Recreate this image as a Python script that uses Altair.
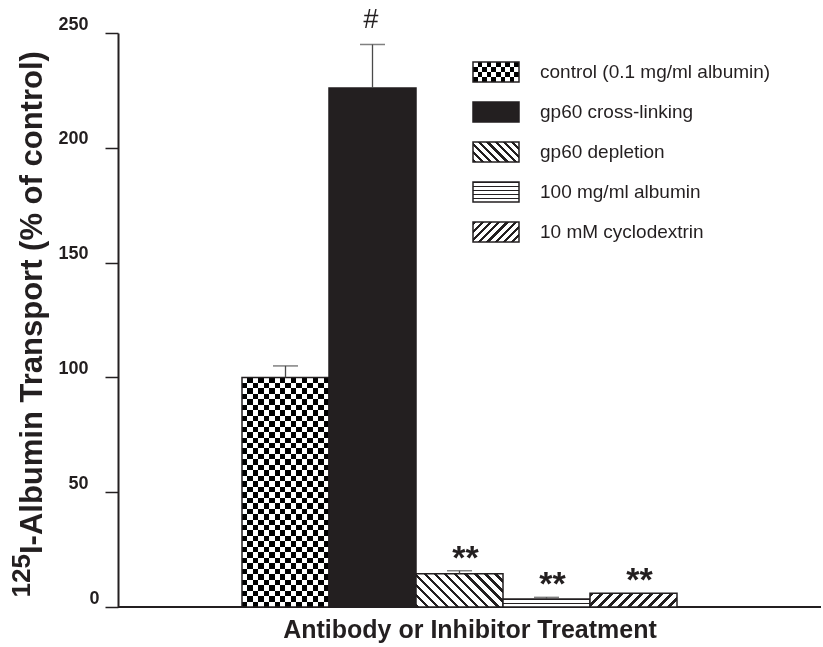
import altair as alt
import pandas as pd

# ---- data -----------------------------------------------------------------
treatments = [
    "control (0.1 mg/ml albumin)",
    "gp60 cross-linking",
    "gp60 depletion",
    "100 mg/ml albumin",
    "10 mM cyclodextrin",
]
transport = [100.0, 226.0, 14.5, 3.5, 6.0]      # % of control
sem = [5.0, 19.0, 1.3, 0.7, 0.0]
significance = ["", "#", "**", "**", "**"]
patterns = ["checker", "solid", "back", "horizontal", "forward"]

# ---- layout / style -------------------------------------------------------
W, H = 703, 574
Y_MAX = 250
BAR_LEFT, BAND = 124, 87
INK = "#231f20"
FONT = "Liberation Sans"

px_per_unit = H / Y_MAX
band = BAND

df = pd.DataFrame({
    "treatment": treatments,
    "transport": transport,
    "sem": sem,
    "top": [m + s for m, s in zip(transport, sem)],
    "sig": significance,
})


def stripe_stops(n, dark=0.5, c_dark=INK, c_light="white"):
    stops = []
    for i in range(n):
        a, m, b = i / n, (i + dark) / n, (i + 1) / n
        stops += [
            {"offset": a, "color": c_dark},
            {"offset": m, "color": c_dark},
            {"offset": m, "color": c_light},
            {"offset": b, "color": c_light},
        ]
    return stops


def hatch(pattern, w, h, period, dark):
    """Linear-gradient fill that reproduces a hatch pattern on a w x h rect."""
    if pattern == "solid":
        return INK
    if pattern == "horizontal":
        n = max(1, round(h / period))
        return {"gradient": "linear", "x1": 0, "y1": 0, "x2": 0, "y2": 1,
                "stops": stripe_stops(n, dark)}
    if pattern == "checker":
        n = max(1, round(w / (2 * period)))
        return {"gradient": "linear", "x1": 0, "y1": 0, "x2": 1, "y2": 0,
                "stops": stripe_stops(n, 0.5, "black", "white")}
    k = (w + h) / (w * w + h * h)
    n = max(1, round((w + h) / period))
    if pattern == "forward":
        g = {"x1": 0, "y1": 0, "x2": k * w, "y2": k * h}
    else:
        g = {"x1": 0, "y1": 1, "x2": k * w, "y2": 1 - k * h}
    return {"gradient": "linear", **g, "stops": stripe_stops(n, dark)}


def checker_rows(h, cell):
    n = max(1, round(h / (2 * cell)))
    return {"gradient": "linear", "x1": 0, "y1": 0, "x2": 0, "y2": 1,
            "stops": stripe_stops(n, 0.5, "white", "black")}


# ---- encodings ------------------------------------------------------------
x_enc = alt.X(
    "treatment:N",
    scale=alt.Scale(domain=treatments, paddingInner=0, paddingOuter=0,
                    range=[BAR_LEFT, BAR_LEFT + BAND * len(treatments)]),
    axis=alt.Axis(
        title="Antibody or Inhibitor Treatment", labels=False, ticks=False, domain=False,
        titleFont=FONT, titleFontSize=25, titleFontWeight="bold",
        titleColor=INK, titlePadding=10, titleX=W / 2, titleAlign="center",
    ),
)
y_enc = alt.Y(
    "transport:Q",
    scale=alt.Scale(domain=[0, Y_MAX], nice=False, zero=True),
    axis=alt.Axis(
        title=None, values=list(range(0, Y_MAX + 1, 50)), grid=False,
        domainColor=INK, domainWidth=2,
        tickColor=INK, tickWidth=1.5, tickSize=13,
        labelFont=FONT, labelFontSize=18, labelFontWeight="bold", labelColor=INK,
        labelOffset=-9,
        labelPadding={"condition": {"test": "datum.value == 0", "value": 6}, "value": 17},
    ),
)

base = alt.Chart(df)
one = alt.Data(values=[{}])
layers = []

# baseline along the full width of the plot
layers.append(alt.Chart(one).mark_rule(color=INK, strokeWidth=2).encode(
    y=alt.datum(0, scale=alt.Scale(domain=[0, Y_MAX], nice=False)),
    x=alt.value(0), x2=alt.value(W)))

BAR_PERIOD = {"checker": 5.5, "back": 10, "forward": 10, "horizontal": 4, "solid": 1}
BAR_DARK = {"back": 0.38, "forward": 0.38, "horizontal": 0.35}

for name, value, pat in zip(treatments, transport, patterns):
    h = value * px_per_unit
    sel = base.transform_filter(alt.datum.treatment == name)
    fill = hatch(pat, band, h, BAR_PERIOD[pat], BAR_DARK.get(pat, 0.5))
    layers.append(sel.mark_bar(fill=fill, strokeWidth=0).encode(x=x_enc, y=y_enc))
    if pat == "checker":
        layers.append(sel.mark_bar(fill=checker_rows(h, BAR_PERIOD[pat]), blend="difference",
                                   strokeWidth=0).encode(x=x_enc, y=y_enc))
    layers.append(sel.mark_bar(fillOpacity=0, stroke=INK, strokeWidth=1.5)
                  .encode(x=x_enc, y=y_enc))

# error bars (upper half only)
err = base.transform_filter(alt.datum.sem > 0)
layers.append(err.mark_rule(color="#4a4a4a", strokeWidth=1.3).encode(
    x=x_enc, y=y_enc, y2="top:Q"))
layers.append(err.mark_tick(color="#4a4a4a", size=25, thickness=1.5).encode(
    x=x_enc, y=alt.Y("top:Q")))

# significance markers
layers.append(base.transform_filter(alt.datum.sig == "#").mark_text(
    font=FONT, fontSize=27, fontStyle="italic", color=INK, dx=-2, dy=-24
).encode(x=x_enc, y=alt.Y("top:Q"), text="sig:N"))
layers.append(base.transform_filter(alt.datum.sig == "**").mark_text(
    font=FONT, fontSize=34, fontWeight="bold", color=INK, dx=6, dy=-12
).encode(x=x_enc, y=alt.Y("top:Q"), text="sig:N"))

# legend
SW_X, SW_W, SW_H = 355, 46, 20
ROW_Y = [39, 79, 119, 159, 199]
LEG_PERIOD = {"checker": 5, "back": 8, "forward": 8, "horizontal": 4, "solid": 1}
for name, pat, yc in zip(treatments, patterns, ROW_Y):
    y0, y1 = yc - SW_H / 2, yc + SW_H / 2
    pos = dict(x=alt.value(SW_X), x2=alt.value(SW_X + SW_W), y=alt.value(y0), y2=alt.value(y1))
    layers.append(alt.Chart(one).mark_rect(
        fill=hatch(pat, SW_W, SW_H, LEG_PERIOD[pat], BAR_DARK.get(pat, 0.5)), strokeWidth=0
    ).encode(**pos))
    if pat == "checker":
        layers.append(alt.Chart(one).mark_rect(
            fill=checker_rows(SW_H, LEG_PERIOD[pat]), blend="difference", strokeWidth=0
        ).encode(**pos))
    layers.append(alt.Chart(one).mark_rect(fillOpacity=0, stroke=INK, strokeWidth=1.5).encode(**pos))
    layers.append(alt.Chart(one).mark_text(
        font=FONT, fontSize=19, color=INK, align="left", baseline="middle"
    ).encode(x=alt.value(SW_X + 67), y=alt.value(yc), text=alt.value(name)))

# y-axis title with superscript isotope number
TITLE_START = 521
layers.append(alt.Chart(one).mark_text(
    font=FONT, fontSize=31, fontWeight="bold", color=INK, angle=270,
    align="left", baseline="middle"
).encode(x=alt.value(-85), y=alt.value(TITLE_START),
         text=alt.value("I-Albumin Transport  (% of control)")))
layers.append(alt.Chart(one).mark_text(
    font=FONT, fontSize=26, fontWeight="bold", color=INK, angle=270,
    align="right", baseline="middle"
).encode(x=alt.value(-96), y=alt.value(TITLE_START),
         text=alt.value("125")))

chart = alt.layer(*layers).properties(
    width=W, height=H,
    autosize=alt.AutoSizeParams(type="none"),
    padding={"left": 118, "top": 33, "right": 2, "bottom": 40},
).configure_view(stroke=None)

chart.save("out.html", embed_options={"renderer": "svg", "actions": False})
